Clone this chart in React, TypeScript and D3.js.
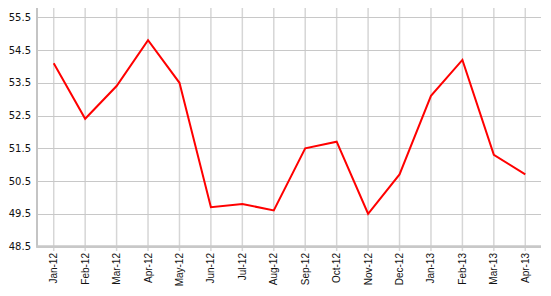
import React from "react";
import * as d3 from "d3";

const months = ["Jan-12","Feb-12","Mar-12","Apr-12","May-12","Jun-12","Jul-12","Aug-12","Sep-12","Oct-12","Nov-12","Dec-12","Jan-13","Feb-13","Mar-13","Apr-13"];
const values = [54.1, 52.4, 53.4, 54.8, 53.5, 49.7, 49.8, 49.6, 51.5, 51.7, 49.5, 50.7, 53.1, 54.2, 51.3, 50.7];
const yTicks = [48.5, 49.5, 50.5, 51.5, 52.5, 53.5, 54.5, 55.5];

export default function App() {
  const W = 551, H = 296;
  const left = 38, right = 541, top = 8, bottom = 246.5;
  const x = d3.scalePoint<string>().domain(months).range([left, right]).padding(0.5);
  const y = d3.scaleLinear().domain([48.5, 55.5]).range([bottom, 17.3]);
  const line = d3.line<number>().x((_, i) => x(months[i]) as number).y(d => y(d));
  return (
    <div style={{ position: "absolute", left: 0, top: 0 }}>
      <svg width={W} height={H} style={{ display: "block", background: "#fff" }}>
        {months.map(m => (
          <line key={m} x1={x(m)} x2={x(m)} y1={top} y2={251} stroke="#d6d6d6" strokeWidth={1.5} />
        ))}
        {yTicks.map(t => (
          <line key={t} x1={left - 1} x2={right} y1={Math.round(y(t)) + 0.5} y2={Math.round(y(t)) + 0.5} stroke="#c8c8c8" strokeWidth={1} />
        ))}
        <line x1={37} x2={37} y1={top} y2={bottom + 1} stroke="#c4c4c4" strokeWidth={2} />
        <line x1={36} x2={right} y1={246.5} y2={246.5} stroke="#c8c8c8" strokeWidth={2.5} />
        {yTicks.map(t => (
          <text key={"l" + t} x={31} y={y(t)} dy="0.35em" textAnchor="end" fontFamily="DejaVu Sans, Verdana, sans-serif" fontSize={10} fill="#111">{t.toFixed(1)}</text>
        ))}
        {months.map(m => (
          <text key={"t" + m} transform={`translate(${(x(m) as number) + 3.5},253) rotate(-90)`} textAnchor="end" fontFamily="Liberation Sans, Arial, sans-serif" fontSize={10} fill="#111">{m}</text>
        ))}
        <path d={line(values) || ""} fill="none" stroke="#ff0000" strokeWidth={2} strokeLinejoin="miter" />
      </svg>
    </div>
  );
}
